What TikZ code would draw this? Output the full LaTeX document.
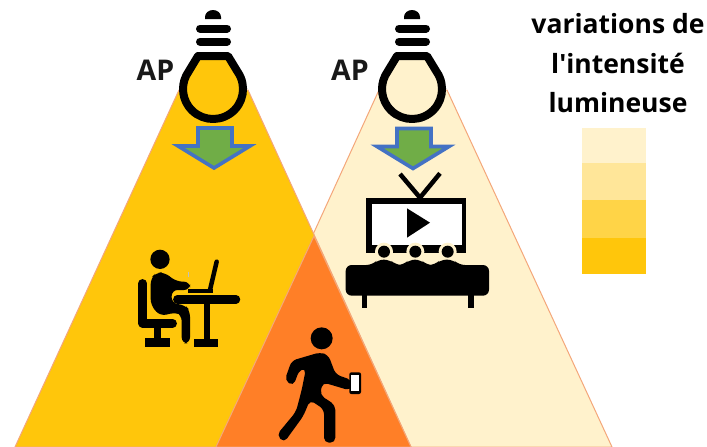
\documentclass[tikz,border=0pt]{standalone}
\usepackage{fontspec}
\setmainfont{Open Sans}
\definecolor{ambre}{HTML}{FFC60B}
\definecolor{creme}{HTML}{FFF2CC}
\definecolor{paille}{HTML}{FFE699}
\definecolor{soleil}{HTML}{FFD447}
\definecolor{orangeZ}{HTML}{FF7F27}
\definecolor{bordZ}{HTML}{F4A77A}
\definecolor{bleuF}{HTML}{4472C4}
\definecolor{vertF}{HTML}{70AD47}
\tikzset{
  label text/.style={font=\bfseries\fontsize{26.5}{26.5}\selectfont,inner sep=0pt,text=black,anchor=base},
  ap text/.style={font=\bfseries\fontsize{28.5}{28.5}\selectfont,inner sep=0pt,text=black!90,anchor=base},
  cone/.style={draw=bordZ,line width=1pt,line join=miter},
  flow arrow/.style={draw=bleuF,fill=vertF,line width=3.6pt,line join=miter,miter limit=10},
  ink/.style={draw=black,line cap=round,line join=round},
  pictogram/.style={x=1pt,y=-1pt,scale=1/3},
}
\newcommand{\bulbshape}[1]{%
  \fill[black] (205,19) -- (205,17) arc[start angle=180,end angle=360,x radius=8,y radius=7] -- (221,19) -- cycle;
  \draw[ink,line width=8pt] (200,28.5) -- (227,28.5);
  \draw[ink,line width=8pt] (200,41.5) -- (227,41.5);
  \draw[ink,line width=8pt,fill=#1,line join=round]
    (198,56) -- (228,56) -- (237.6,71.8)
    arc[start angle=-35,end angle=215,radius=30]
    -- cycle;
}
\begin{document}
\begin{tikzpicture}[x=1pt,y=-1pt]
\useasboundingbox (0,0) rectangle (707,447);
\fill[white] (0,0) rectangle (707,447);
% light cones
\path[cone,fill=creme] (379,90) -- (447,90) -- (612,447) -- (216,447) -- cycle;
\path[cone,fill=ambre] (179,90) -- (248,90) -- (411,447) -- (15,447) -- cycle;
\path[cone,fill=orangeZ] (314,236) -- (411,447) -- (216,447) -- cycle;
% bulbs
\begin{scope}
  \bulbshape{ambre}
\end{scope}
\begin{scope}[xshift=199pt]
  \bulbshape{creme}
\end{scope}
% arrows
\path[flow arrow] (198,128) -- (232,128) -- (232,146) -- (250,146) -- (214,168) -- (178,146) -- (198,146) -- cycle;
\path[flow arrow] (397,128.5) -- (431,128.5) -- (431,146.5) -- (449,146.5) -- (413,168.5) -- (377,146.5) -- (397,146.5) -- cycle;
% worker
\begin{scope}[shift={(130,240)},pictogram]
  \fill[black] (90,58) circle (29);
  \fill[black,rounded corners=6pt] (62,115) -- (78,98) -- (103,97) -- (140,125) -- (180,125) -- (180,150) -- (125,150) -- (125,190) -- (165,195) -- (180,212) -- (180,310) -- (155,310) -- (155,225) -- (140,217) -- (90,228) -- (62,195) -- cycle;
  \draw[ink,line width=8.5pt] (38,130) -- (38,250) -- (128,250);
  \fill[black] (73,255) rectangle (92,300);
  \fill[black] (45,295) rectangle (120,322);
  \draw[ink,line width=8.5pt] (142,178) -- (318,178);
  \fill[black] (221,185) rectangle (240,300);
  \fill[black] (193,297) rectangle (265,322);
  \fill[black] (175,147) -- (248,147) -- (248,160) -- (175,160) -- cycle;
  \draw[ink,line width=4.5pt] (240,150) -- (260,65);
  \draw[black!25,line width=1pt] (176,95) -- (176,110);
\end{scope}
% television and audience
\begin{scope}[shift={(335,165)},pictogram]
  \draw[black,line width=4.5pt,line join=miter] (195,27) -- (255,98) -- (315,25);
  \fill[black] (93,98) rectangle (393,263);
  \fill[white] (112,118) rectangle (382,240);
  \fill[black] (216,130) -- (285,173) -- (216,218) -- cycle;
  \foreach \hx in {147,241,338} {
    \fill[creme] (\hx,260) circle (27);
    \fill[black] (\hx,260) circle (18);
  }
  \fill[black,rounded corners=6pt] (32,300) -- (112,300) -- (128,284) -- (165,284) -- (182,300) -- (206,300) -- (222,284) -- (258,284) -- (274,300) -- (300,300) -- (316,284) -- (355,284) -- (372,300) -- (462,300) -- (462,392) -- (32,392) -- cycle;
  \fill[black] (80,385) rectangle (96,428);
  \fill[black] (398,385) rectangle (416,428);
\end{scope}
% walker with phone
\begin{scope}[shift={(260,320)},pictogram]
  \fill[black] (185,55) circle (33);
  \fill[black,rounded corners=5pt] (95,122) -- (180,97) -- (205,105) -- (227,163) -- (277,181) -- (272,212) -- (205,192) -- (188,187) -- (180,225) -- (226,255) -- (226,368) -- (192,368) -- (192,268) -- (150,240) -- (130,288) -- (72,368) -- (50,345) -- (108,275) -- (125,210) -- (138,145) -- (118,150) -- (100,198) -- (74,181) -- cycle;
  \fill[black,rounded corners=2pt] (268,157) rectangle (303,222);
  \fill[white] (273,165) rectangle (298,213);
\end{scope}
% legend
\fill[creme] (582,128) rectangle (646,163);
\fill[paille] (582,163) rectangle (646,200);
\fill[soleil] (582,200) rectangle (646,238);
\fill[ambre] (582,238) rectangle (646,274);
% texts
\node[ap text] (apg) at (155.5,80) {AP};
\node[ap text] (apd) at (350,80) {AP};
\node[label text] (t1) at (618,34) {variations de};
\node[label text] (t2) at (618,73) {l\textquotesingle intensité};
\node[label text] (t3) at (618,112) {lumineuse};
\end{tikzpicture}
\end{document}
